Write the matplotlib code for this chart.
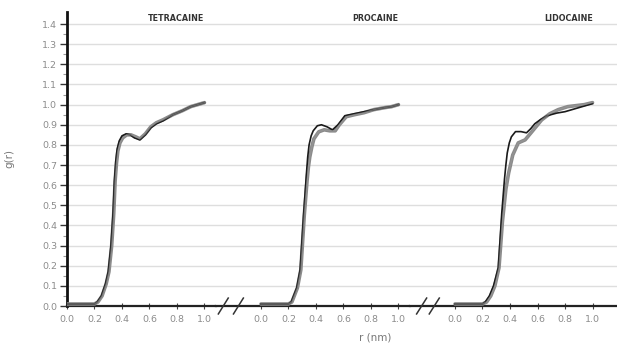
import matplotlib
matplotlib.use('Agg')
import matplotlib.pyplot as plt
import numpy as np

plt.rcParams['font.family'] = ['DejaVu Sans']

# r (nm) and g(r); two runs per drug (dark and light)
tetra_r_dark = [0.0, 0.10, 0.20, 0.22, 0.25, 0.28, 0.30, 0.32, 0.335, 0.345, 0.355, 0.365,
                0.38, 0.40, 0.43, 0.46, 0.49, 0.53, 0.57, 0.61, 0.65, 0.70, 0.77, 0.84,
                0.90, 0.95, 1.0]
tetra_g_dark = [0.01, 0.01, 0.01, 0.02, 0.05, 0.11, 0.17, 0.30, 0.46, 0.62, 0.72, 0.78,
                0.82, 0.845, 0.855, 0.85, 0.835, 0.825, 0.85, 0.885, 0.905, 0.92, 0.95,
                0.97, 0.99, 1.0, 1.01]
tetra_r_light = [0.0, 0.10, 0.20, 0.225, 0.255, 0.285, 0.305, 0.325, 0.34, 0.35, 0.36, 0.37,
                 0.385, 0.405, 0.435, 0.465, 0.50, 0.53, 0.57, 0.61, 0.65, 0.70, 0.77,
                 0.84, 0.90, 0.95, 1.0]
tetra_g_light = [0.01, 0.01, 0.01, 0.02, 0.05, 0.11, 0.17, 0.30, 0.46, 0.62, 0.71, 0.77,
                 0.81, 0.835, 0.85, 0.85, 0.84, 0.83, 0.855, 0.89, 0.91, 0.925, 0.95,
                 0.97, 0.99, 1.0, 1.01]

proc_r_dark = [0.0, 0.10, 0.20, 0.22, 0.26, 0.285, 0.31, 0.33, 0.34, 0.35, 0.365, 0.38,
               0.41, 0.44, 0.48, 0.52, 0.56, 0.61, 0.68, 0.75, 0.82, 0.90, 0.95, 1.0]
proc_g_dark = [0.01, 0.01, 0.01, 0.02, 0.09, 0.18, 0.45, 0.65, 0.74, 0.80, 0.845, 0.87,
               0.895, 0.90, 0.89, 0.875, 0.90, 0.945, 0.955, 0.965, 0.975, 0.985, 0.99, 1.0]
proc_r_light = [0.0, 0.10, 0.20, 0.225, 0.265, 0.29, 0.315, 0.335, 0.345, 0.355, 0.37, 0.385,
                0.42, 0.46, 0.50, 0.54, 0.57, 0.62, 0.68, 0.75, 0.82, 0.90, 0.95, 1.0]
proc_g_light = [0.01, 0.01, 0.01, 0.02, 0.09, 0.18, 0.45, 0.62, 0.69, 0.74, 0.79, 0.83,
                0.865, 0.875, 0.87, 0.87, 0.90, 0.94, 0.95, 0.96, 0.975, 0.985, 0.99, 1.0]

lido_r_dark = [0.0, 0.10, 0.20, 0.22, 0.25, 0.28, 0.315, 0.34, 0.36, 0.37, 0.38, 0.395,
               0.41, 0.44, 0.48, 0.52, 0.55, 0.58, 0.62, 0.67, 0.74, 0.80, 0.90, 1.0]
lido_g_dark = [0.01, 0.01, 0.01, 0.02, 0.05, 0.10, 0.19, 0.46, 0.63, 0.70, 0.76, 0.81,
               0.84, 0.866, 0.866, 0.86, 0.88, 0.905, 0.925, 0.945, 0.958, 0.965, 0.985, 1.005]
lido_r_light = [0.0, 0.10, 0.20, 0.23, 0.26, 0.29, 0.32, 0.345, 0.37, 0.39, 0.42, 0.46,
                0.51, 0.56, 0.63, 0.69, 0.75, 0.82, 0.88, 0.94, 1.0]
lido_g_light = [0.01, 0.01, 0.01, 0.02, 0.05, 0.10, 0.19, 0.42, 0.58, 0.66, 0.75, 0.81,
                0.825, 0.866, 0.924, 0.955, 0.975, 0.99, 0.995, 1.0, 1.01]

names = ['TETRACAINE', 'PROCAINE', 'LIDOCAINE']
panels = [
    (tetra_r_dark, tetra_g_dark, tetra_r_light, tetra_g_light),
    (proc_r_dark, proc_g_dark, proc_r_light, proc_g_light),
    (lido_r_dark, lido_g_dark, lido_r_light, lido_g_light),
]

W, H = 617, 347
fig = plt.figure(figsize=(W / 100, H / 100), dpi=100)

# pixel boxes of the three panels (left, right) and the shared x range of each
bottom_px, top_px = 306, 12
boxes = [(67, 216), (216, 410), (410, 617)]
xlims = [(0.0, 1.084), (-0.327, 1.084), (-0.327, 1.178)]
breaks = [None, [(-0.31, -0.238), (-0.20, -0.128)], [(-0.279, -0.206), (-0.187, -0.114)]]

axes = []
for i, ((l, r), xl) in enumerate(zip(boxes, xlims)):
    ax = fig.add_axes([l / W, 1 - bottom_px / H, (r - l) / W, (bottom_px - top_px) / H])
    axes.append(ax)
    rd, gd, rl, gl = panels[i]
    ax.plot(rl, gl, color='#8a8a8a', lw=2.6, solid_capstyle='round',
            solid_joinstyle='round', zorder=3)
    ax.plot(rd, gd, color='#1a1a1a', lw=1.2, solid_joinstyle='round', zorder=4)
    ax.plot(rl, gl, color='#9a9a9a', lw=1.0, alpha=0.6, zorder=5)

    ax.set_xlim(*xl)
    ax.set_ylim(0, 1.46)
    ax.set_yticks(np.arange(0.1, 1.41, 0.1), minor=False)
    ax.yaxis.grid(True, color='#dedede', lw=1.0)
    ax.set_axisbelow(True)
    for s in ['top', 'right']:
        ax.spines[s].set_visible(False)
    ax.spines['bottom'].set_color('#222222')
    ax.spines['bottom'].set_linewidth(1.6)
    ax.set_xticks([0.0, 0.2, 0.4, 0.6, 0.8, 1.0])
    ax.set_xticklabels(['0.0', '0.2', '0.4', '0.6', '0.8', '1.0'])
    ax.tick_params(axis='x', direction='inout', length=5, width=0.8, color='#444444',
                   labelsize=6.8, labelcolor='#8c8c8c', pad=4)

    if i == 0:
        ax.spines['left'].set_color('#111111')
        ax.spines['left'].set_linewidth(2.0)
        ax.set_yticks(np.arange(0.0, 1.41, 0.1))
        ax.set_yticklabels([f'{v:.1f}' for v in np.arange(0.0, 1.41, 0.1)])
        ax.set_yticks(np.arange(0.05, 1.41, 0.1), minor=True)
        ax.tick_params(axis='y', which='major', direction='out', length=5, width=1.0,
                       color='#333333', labelsize=6.8, labelcolor='#8c8c8c', pad=2)
        ax.tick_params(axis='y', which='minor', direction='out', length=3, width=0.8,
                       color='#999999')
        ax.set_ylabel('g(r)', fontsize=7.5, color='#777777', labelpad=20)
    else:
        ax.spines['left'].set_visible(False)
        ax.tick_params(axis='y', which='both', left=False, labelleft=False)
        trans = ax.get_xaxis_transform()
        for x0, x1 in breaks[i]:
            ax.plot([x0, x1], [-0.027, 0.027], color='#333333', lw=1.1,
                    transform=trans, clip_on=False, zorder=6)

    ax.text(1.0, 1.43, names[i], ha='right', va='center', fontsize=5.8,
            fontweight='bold', color='#333333')

fig.text(375 / W, 1 - 337 / H, 'r (nm)', ha='center', va='center',
         fontsize=7.5, color='#777777')

fig.savefig('out.png', dpi=100)
